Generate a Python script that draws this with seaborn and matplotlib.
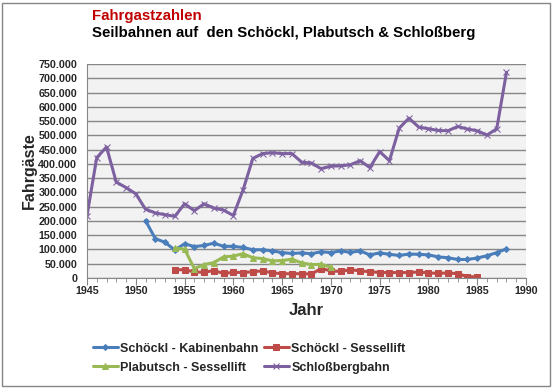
import numpy as np
import pandas as pd
import seaborn as sns
import matplotlib.pyplot as plt
from matplotlib.ticker import FuncFormatter, MultipleLocator
from matplotlib.patches import Rectangle

# Fahrgastzahlen
jahre_kabine = list(range(1951, 1989))
kabinenbahn = [201, 138, 125, 98, 120, 110, 114, 122, 111, 111, 107, 99, 99, 95,
               89, 86, 88, 85, 92, 89, 95, 90, 95, 81, 88, 83, 79, 84, 83, 81,
               74, 71, 65, 65, 70, 78, 89, 102]

jahre_sessel = list(range(1954, 1986))
sessellift = [29, 29, 21, 20, 26, 16, 20, 19, 22, 25, 18, 15, 15, 15, 14, 33,
              25, 23, 29, 25, 22, 19, 19, 19, 19, 21, 18, 16, 18, 15, 5, 4]

jahre_plabutsch = list(range(1954, 1971))
plabutsch = [105, 101, 33, 47, 54, 74, 77, 85, 71, 68, 60, 61, 66, 53, 47, 48, 38]

jahre_schloss = list(range(1945, 1989))
schlossberg = [219, 422, 459, 336, 317, 295, 241, 228, 222, 216, 260, 236, 260,
               245, 238, 219, 309, 419, 436, 439, 436, 436, 406, 403, 383, 392,
               393, 397, 411, 387, 443, 411, 525, 560, 529, 523, 517, 516, 531,
               522, 516, 501, 523, 721]

namen = ["Schöckl - Kabinenbahn", "Schöckl - Sessellift",
         "Plabutsch - Sessellift", "Schloßbergbahn"]
farben = ["#4a7ebb", "#be4b48", "#98b954", "#7d60a0"]
marker = ["D", "s", "^", "x"]

teile = []
for name, j, w in zip(namen,
                      [jahre_kabine, jahre_sessel, jahre_plabutsch, jahre_schloss],
                      [kabinenbahn, sessellift, plabutsch, schlossberg]):
    teile.append(pd.DataFrame({"Jahr": j, "Wert": np.array(w) * 1000, "Bahn": name}))
df = pd.concat(teile, ignore_index=True)

sns.set_style("white")
plt.rcParams['font.family'] = ['Liberation Sans', 'DejaVu Sans']

fig = plt.figure(figsize=(5.56, 3.92), dpi=100)
ax = fig.add_axes([87 / 556, 1 - 278 / 392, (526 - 87) / 556, (278 - 64) / 392])
ax.set_facecolor("#f2f2f2")

msize = {"D": 3, "s": 4, "^": 4, "x": 4}
for name, f, m in zip(namen, farben, marker):
    sns.lineplot(data=df[df["Bahn"] == name], x="Jahr", y="Wert", color=f,
                 marker=m, markersize=msize[m], markeredgecolor=f,
                 linewidth=2.2, ax=ax, label=name)

ax.set_xlim(1945, 1990)
ax.set_ylim(0, 750000)
ax.yaxis.set_major_locator(MultipleLocator(50000))
ax.xaxis.set_major_locator(MultipleLocator(5))
ax.xaxis.set_minor_locator(MultipleLocator(1))
ax.yaxis.set_major_formatter(FuncFormatter(lambda v, p: f"{int(v):,}".replace(",", ".")))
ax.grid(axis="y", color="#868686", linewidth=1)
ax.set_axisbelow(True)
for s in ["top", "right"]:
    ax.spines[s].set_visible(False)
for s in ["left", "bottom"]:
    ax.spines[s].set_color("#868686")
ax.tick_params(axis="x", which="both", direction="out", bottom=True, color="#868686")
ax.tick_params(axis="x", which="major", length=5, pad=1)
ax.tick_params(axis="x", which="minor", length=3)
ax.tick_params(axis="y", length=0, pad=7)
for lab in ax.get_xticklabels() + ax.get_yticklabels():
    lab.set_fontweight("bold")
    lab.set_fontsize(7.7)

ax.set_xlabel("Jahr", fontsize=12, fontweight="bold", labelpad=5)
ax.set_ylabel("Fahrgäste", fontsize=11.5, fontweight="bold", labelpad=1)

# Reihenfolge fuer zeilenweise Legende (ncol=2 fuellt spaltenweise)
h, l = ax.get_legend_handles_labels()
ordnung = [0, 2, 1, 3]
ax.legend([h[i] for i in ordnung], [l[i] for i in ordnung],
          loc="upper left", bbox_to_anchor=(-0.012, -0.25), ncol=2, frameon=False,
          prop={"size": 9.0, "weight": "bold"}, handlelength=2.0,
          handletextpad=0.2, columnspacing=0.4, labelspacing=0.55)

fig.text(92 / 556, 1 - 16 / 392, "Fahrgastzahlen", color="#c00000",
         fontsize=10.8, fontweight="bold", va="center")
fig.text(92 / 556, 1 - 33 / 392, "Seilbahnen auf  den Schöckl, Plabutsch & Schloßberg",
         color="black", fontsize=10.8, fontweight="bold", va="center")

fig.patches.append(Rectangle((2 / 556, 6 / 392), 548 / 556, 383 / 392,
                             transform=fig.transFigure, fill=False,
                             edgecolor="#868686", linewidth=1))

fig.savefig("out.png", dpi=100)
